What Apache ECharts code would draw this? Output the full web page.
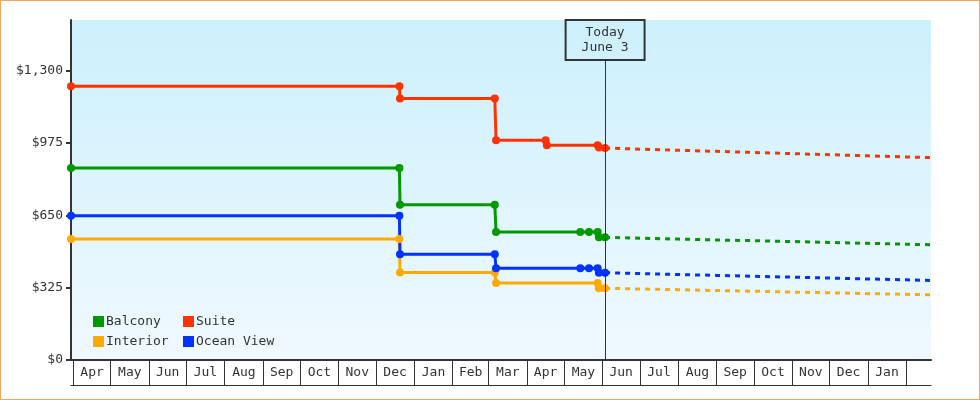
<!DOCTYPE html>
<html>
<head>
<meta charset="utf-8">
<script src="https://cdn.jsdelivr.net/npm/echarts@6/dist/echarts.min.js"></script>
<style>
  html, body { margin: 0; padding: 0; background: #fff; }
  #wrap { position: relative; width: 980px; height: 400px; }
  #chart { position: absolute; left: 0; top: 0; width: 980px; height: 400px; }
  #frame { position: absolute; left: 0; top: 0; width: 978px; height: 398px; border: 1px solid #eaa862; pointer-events: none; }
</style>
</head>
<body>
<div id="wrap"><div id="chart"></div><div id="frame"></div></div>
<script>
// ---- data ----
const monthStarts = ['2023-04-01','2023-05-01','2023-06-01','2023-07-01','2023-08-01','2023-09-01','2023-10-01','2023-11-01','2023-12-01','2024-01-01','2024-02-01','2024-03-01','2024-04-01','2024-05-01','2024-06-01','2024-07-01','2024-08-01','2024-09-01','2024-10-01','2024-11-01','2024-12-01','2025-01-01','2025-02-01'];
const monthLabels = ['Apr','May','Jun','Jul','Aug','Sep','Oct','Nov','Dec','Jan','Feb','Mar','Apr','May','Jun','Jul','Aug','Sep','Oct','Nov','Dec','Jan'];
const yTicks = [0, 325, 650, 975, 1300];
const xMin = '2023-03-30';
const xMax = '2025-02-21';
const yMax = 1527;
const todayDate = '2024-06-03';
const todayLabel = 'Today\nJune 3';
const todayBoxBottom = 1347;

const suitePast = [['2023-03-30',1230],['2023-12-20',1230],['2023-12-20 12:00',1175],['2024-03-06',1175],['2024-03-07',987],['2024-04-16',987],['2024-04-17',965],['2024-05-28',965],['2024-05-29',954],['2024-06-03',952]];
const balconyPast = [['2023-03-30',862],['2023-12-20',862],['2023-12-20 12:00',697],['2024-03-06',697],['2024-03-07',575],['2024-05-14',575],['2024-05-21',575],['2024-05-28',575],['2024-05-29',551],['2024-06-03',551]];
const oceanPast = [['2023-03-30',648],['2023-12-20',648],['2023-12-20 12:00',475],['2024-03-06',475],['2024-03-07',412],['2024-05-14',412],['2024-05-21',412],['2024-05-28',412],['2024-05-29',392],['2024-06-03',392]];
const interiorPast = [['2023-03-30',543],['2023-12-20',543],['2023-12-20 12:00',393],['2024-03-06',393],['2024-03-07',346],['2024-05-28',346],['2024-05-29',322],['2024-06-03',322]];

const forecastDates = ['2024-06-03','2024-07-01','2024-08-01','2024-09-01','2024-10-01','2024-11-01','2024-12-01','2025-01-01','2025-02-01','2025-02-21'];
const suiteForecast = [952, 947, 942, 937, 932, 927, 922, 917, 912, 909];
const balconyForecast = [551, 547, 543, 539, 536, 532, 528, 524, 520, 518];
const oceanForecast = [392, 388, 384, 380, 376, 372, 368, 364, 360, 357];
const interiorForecast = [322, 319, 316, 312, 309, 305, 302, 298, 295, 293];

// ---- build ----
const FONT = 'DejaVu Sans Mono';
const INK = '#333333';
const colors = { Balcony: '#009900', Suite: '#ff3300', Interior: '#ffaa00', 'Ocean View': '#0033ff' };
const pd = s => +echarts.number.parseDate(s);
const tickVals = monthStarts.map(pd);
const labelVals = monthLabels.map((m, i) => (tickVals[i] + tickVals[i + 1]) / 2);
function monthName(v) {
  let best = 0, bd = Infinity;
  labelVals.forEach((lv, i) => { const d = Math.abs(lv - v); if (d < bd) { bd = d; best = i; } });
  return monthLabels[best];
}
const conv = arr => arr.map(p => [pd(p[0]), p[1]]);
const zip = (dates, vals) => dates.map((d, i) => [pd(d), vals[i]]);

function solid(name, data) {
  return { name, type: 'line', data: conv(data), color: colors[name], symbol: 'circle', symbolSize: 8, showSymbol: true,
    lineStyle: { width: 3, color: colors[name] }, itemStyle: { color: colors[name] }, z: 3 };
}
function dashed(name, data) {
  return { name, type: 'line', data, color: colors[name], symbol: 'none', showSymbol: false,
    lineStyle: { width: 3, color: colors[name], type: [5, 5] }, z: 2 };
}
const legendCommon = {
  orient: 'vertical', icon: 'rect', itemWidth: 11, itemHeight: 11, itemGap: 7,
  textStyle: { fontFamily: FONT, fontSize: 13, color: INK, padding: [0, 0, 0, -3] },
  selectedMode: false
};

const chart = echarts.init(document.getElementById('chart'), null, { renderer: 'canvas' });
chart.setOption({
  animation: false,
  backgroundColor: '#ffffff',
  grid: { left: 71, right: 49, top: 20, bottom: 40, show: true, borderWidth: 0,
    backgroundColor: new echarts.graphic.LinearGradient(0, 0, 0, 1, [{ offset: 0, color: '#ccf0fc' }, { offset: 1, color: '#f0f9ff' }]) },
  legend: [
    Object.assign({ data: ['Balcony', 'Interior'], left: 88, top: 310 }, legendCommon),
    Object.assign({ data: ['Suite', 'Ocean View'], left: 178, top: 310 }, legendCommon)
  ],
  xAxis: [
    { type: 'value', min: pd(xMin), max: pd(xMax), position: 'bottom', scale: true,
      axisLine: { show: true, lineStyle: { color: INK, width: 2 } },
      axisTick: { show: true, inside: false, length: 25, lineStyle: { color: INK, width: 1 }, customValues: tickVals },
      axisLabel: { show: true, customValues: labelVals, formatter: v => monthName(v), margin: 6,
        fontFamily: FONT, fontSize: 13, color: INK, hideOverlap: false, showMinLabel: true, showMaxLabel: true },
      splitLine: { show: false }, minorTick: { show: false } },
    { type: 'value', min: pd(xMin), max: pd(xMax), position: 'bottom', offset: 25, scale: true,
      axisLine: { show: true, lineStyle: { color: INK, width: 1 } },
      axisTick: { show: false }, axisLabel: { show: false }, splitLine: { show: false } }
  ],
  yAxis: {
    type: 'value', min: 0, max: yMax,
    axisLine: { show: true, lineStyle: { color: INK, width: 2 } },
    axisTick: { show: true, length: 5, lineStyle: { color: INK, width: 2 }, customValues: yTicks },
    axisLabel: { customValues: yTicks, margin: 8, fontFamily: FONT, fontSize: 13, color: INK,
      formatter: v => '$' + v.toLocaleString('en-US') },
    splitLine: { show: false }
  },
  series: [
    dashed('Interior', zip(forecastDates, interiorForecast)),
    dashed('Ocean View', zip(forecastDates, oceanForecast)),
    dashed('Balcony', zip(forecastDates, balconyForecast)),
    dashed('Suite', zip(forecastDates, suiteForecast)),
    solid('Interior', interiorPast),
    solid('Ocean View', oceanPast),
    solid('Balcony', balconyPast),
    solid('Suite', suitePast),
    { name: '_today', type: 'line', data: [], z: 10,
      markLine: { silent: true, symbol: ['none', 'none'], animation: false,
        lineStyle: { color: INK, width: 1, type: 'solid' },
        label: { show: true, position: 'end', distance: 0, formatter: todayLabel, color: INK,
          fontFamily: FONT, fontSize: 13, lineHeight: 15, borderColor: INK, borderWidth: 1,
          padding: [5, 16, 5, 16], backgroundColor: 'transparent', align: 'center' },
        emphasis: { disabled: true },
        data: [[{ coord: [pd(todayDate), 0] }, { coord: [pd(todayDate), todayBoxBottom] }]] } }
  ]
});
</script>
</body>
</html>
